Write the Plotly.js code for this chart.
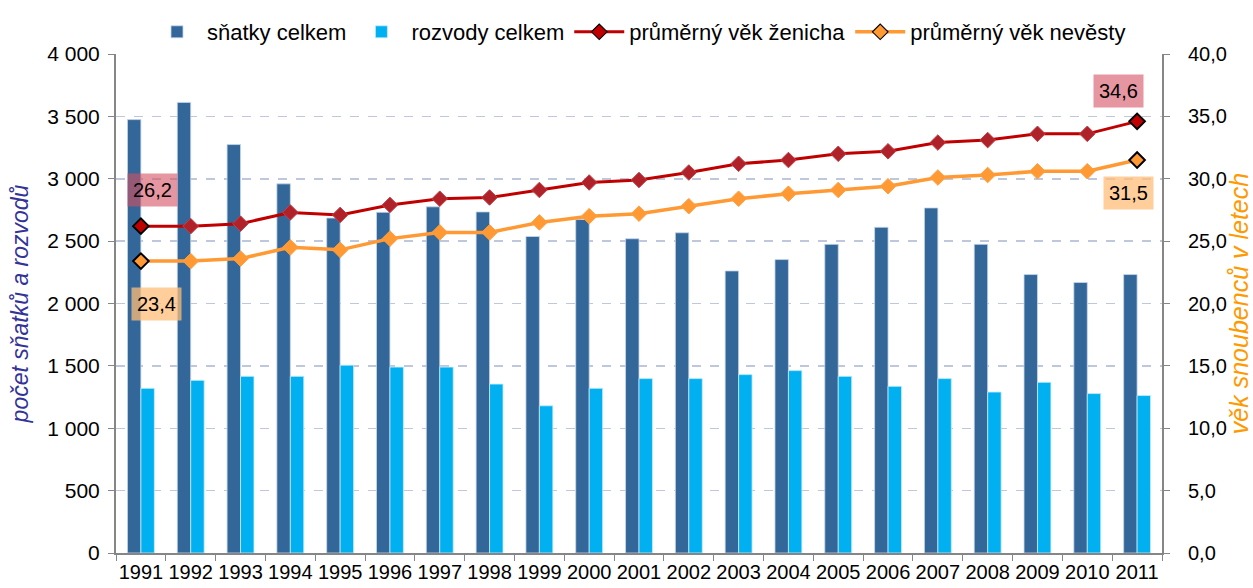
<!DOCTYPE html>
<html>
<head>
<meta charset="utf-8">
<script src="https://cdn.plot.ly/plotly-3.0.1.min.js"></script>
<style>html,body{margin:0;padding:0;background:#fff;}#chart{width:1253px;height:588px;}</style>
</head>
<body>
<div id="chart"></div>
<script>
var years = ['1991','1992','1993','1994','1995','1996','1997','1998','1999','2000','2001','2002','2003','2004','2005','2006','2007','2008','2009','2010','2011'];
var snatky = [3474,3612,3274,2959,2685,2731,2775,2734,2537,2673,2519,2567,2261,2352,2474,2611,2766,2474,2232,2168,2232];
var rozvody = [1320,1384,1416,1416,1506,1490,1490,1354,1180,1320,1398,1398,1430,1462,1416,1336,1398,1290,1368,1278,1262];
var vekZenicha = [26.2,26.2,26.4,27.3,27.1,27.9,28.4,28.5,29.1,29.7,29.9,30.5,31.2,31.5,32.0,32.2,32.9,33.1,33.6,33.6,34.6];
var vekNevesty = [23.4,23.4,23.6,24.5,24.3,25.2,25.7,25.7,26.5,27.0,27.2,27.8,28.4,28.8,29.1,29.4,30.1,30.3,30.6,30.6,31.5];
var names = ['sňatky celkem','rozvody celkem','průměrný věk ženicha','průměrný věk nevěsty'];

var n = years.length;
function edgeColors(base){ var a=[]; for(var i=0;i<n;i++){ a.push((i===0||i===n-1)?'#000000':base);} return a; }
function edgeWidths(){ var a=[]; for(var i=0;i<n;i++){ a.push((i===0||i===n-1)?2:1);} return a; }
function fillColors(base, edge){ var a=[]; for(var i=0;i<n;i++){ a.push((i===0||i===n-1)?edge:base);} return a; }

var traces = [
  {type:'bar', x:years, y:snatky, name:names[0], marker:{color:'#336699', line:{color:'rgba(200,215,235,0.8)', width:1}}},
  {type:'bar', x:years, y:rozvody, name:names[1], marker:{color:'#00b0f0', line:{color:'rgba(200,235,250,0.8)', width:1}}},
  {type:'scatter', mode:'lines+markers', x:years, y:vekZenicha, yaxis:'y2', name:names[2],
   line:{color:'#c00000', width:3},
   marker:{symbol:'diamond', size:12, color:fillColors('#b0222a','#c00000'), line:{color:edgeColors('#c04048'), width:edgeWidths()}}},
  {type:'scatter', mode:'lines+markers', x:years, y:vekNevesty, yaxis:'y2', name:names[3],
   line:{color:'#ff9933', width:3.5},
   marker:{symbol:'diamond', size:12, color:'#ff9933', line:{color:edgeColors('#ffa040'), width:edgeWidths()}}}
];

var font = {family:'Liberation Sans, Arial, sans-serif', color:'#000'};
var layout = {
  width:1253, height:588,
  margin:{l:116, r:91, t:53, b:35},
  paper_bgcolor:'#fff', plot_bgcolor:'#fff',
  separators:', ',
  font:{family:font.family, size:18, color:'#000'},
  barmode:'group', bargap:0.46, bargroupgap:0,
  showlegend:true,
  legend:{orientation:'h', x:0.5, xanchor:'center', y:1.0, yanchor:'bottom', font:{size:22}, itemwidth:50, traceorder:'normal'},
  xaxis:{type:'category', range:[-0.5, n-0.5], autorange:false, tickson:'boundaries', ticks:'outside', ticklen:6, tickcolor:'#868686',
         showline:true, linecolor:'#868686', linewidth:2, tickfont:{size:20}, tickangle:0, showgrid:false},
  yaxis:{range:[0,4000], dtick:500, tick0:0, separatethousands:true, ticks:'outside', ticklen:6, tickcolor:'#868686',
         showline:true, linecolor:'#868686', linewidth:2, tickfont:{size:21}, ticklabelstandoff:4,
         showgrid:true, gridcolor:'#bfc7dd', griddash:'dash', gridwidth:1.5, zeroline:false,
         title:{text:'<i>počet sňatků a rozvodů</i>', font:{size:23, color:'#333399'}, standoff:12}},
  yaxis2:{range:[0,40], dtick:5, tick0:0, tickformat:'.1f', overlaying:'y', side:'right', ticks:'outside', ticklen:6, tickcolor:'#868686',
          showline:true, linecolor:'#868686', linewidth:2, tickfont:{size:20}, ticklabelstandoff:14, showgrid:false, zeroline:false,
          title:{text:'<i>věk snoubenců v letech</i>', font:{size:25, color:'#ff9900'}, standoff:2}},
  annotations:[
    {xref:'x', yref:'y2', x:0, y:vekZenicha[0], text:'26,2', showarrow:false, yshift:36, xshift:12,
     bgcolor:'rgba(214,80,96,0.6)', borderpad:5, font:{size:20, color:'#000'}},
    {xref:'x', yref:'y2', x:0, y:vekNevesty[0], text:'23,4', showarrow:false, yshift:-43, xshift:16,
     bgcolor:'rgba(255,190,120,0.75)', borderpad:5, font:{size:20, color:'#000'}},
    {xref:'x', yref:'y2', x:n-1, y:vekZenicha[n-1], text:'34,6', showarrow:false, yshift:30, xshift:-19,
     bgcolor:'rgba(214,80,96,0.6)', borderpad:5, font:{size:20, color:'#000'}},
    {xref:'x', yref:'y2', x:n-1, y:vekNevesty[n-1], text:'31,5', showarrow:false, yshift:-33, xshift:-9,
     bgcolor:'rgba(255,190,120,0.75)', borderpad:5, font:{size:20, color:'#000'}}
  ]
};
Plotly.newPlot('chart', traces, layout, {displayModeBar:false, staticPlot:true});
</script>
</body>
</html>
